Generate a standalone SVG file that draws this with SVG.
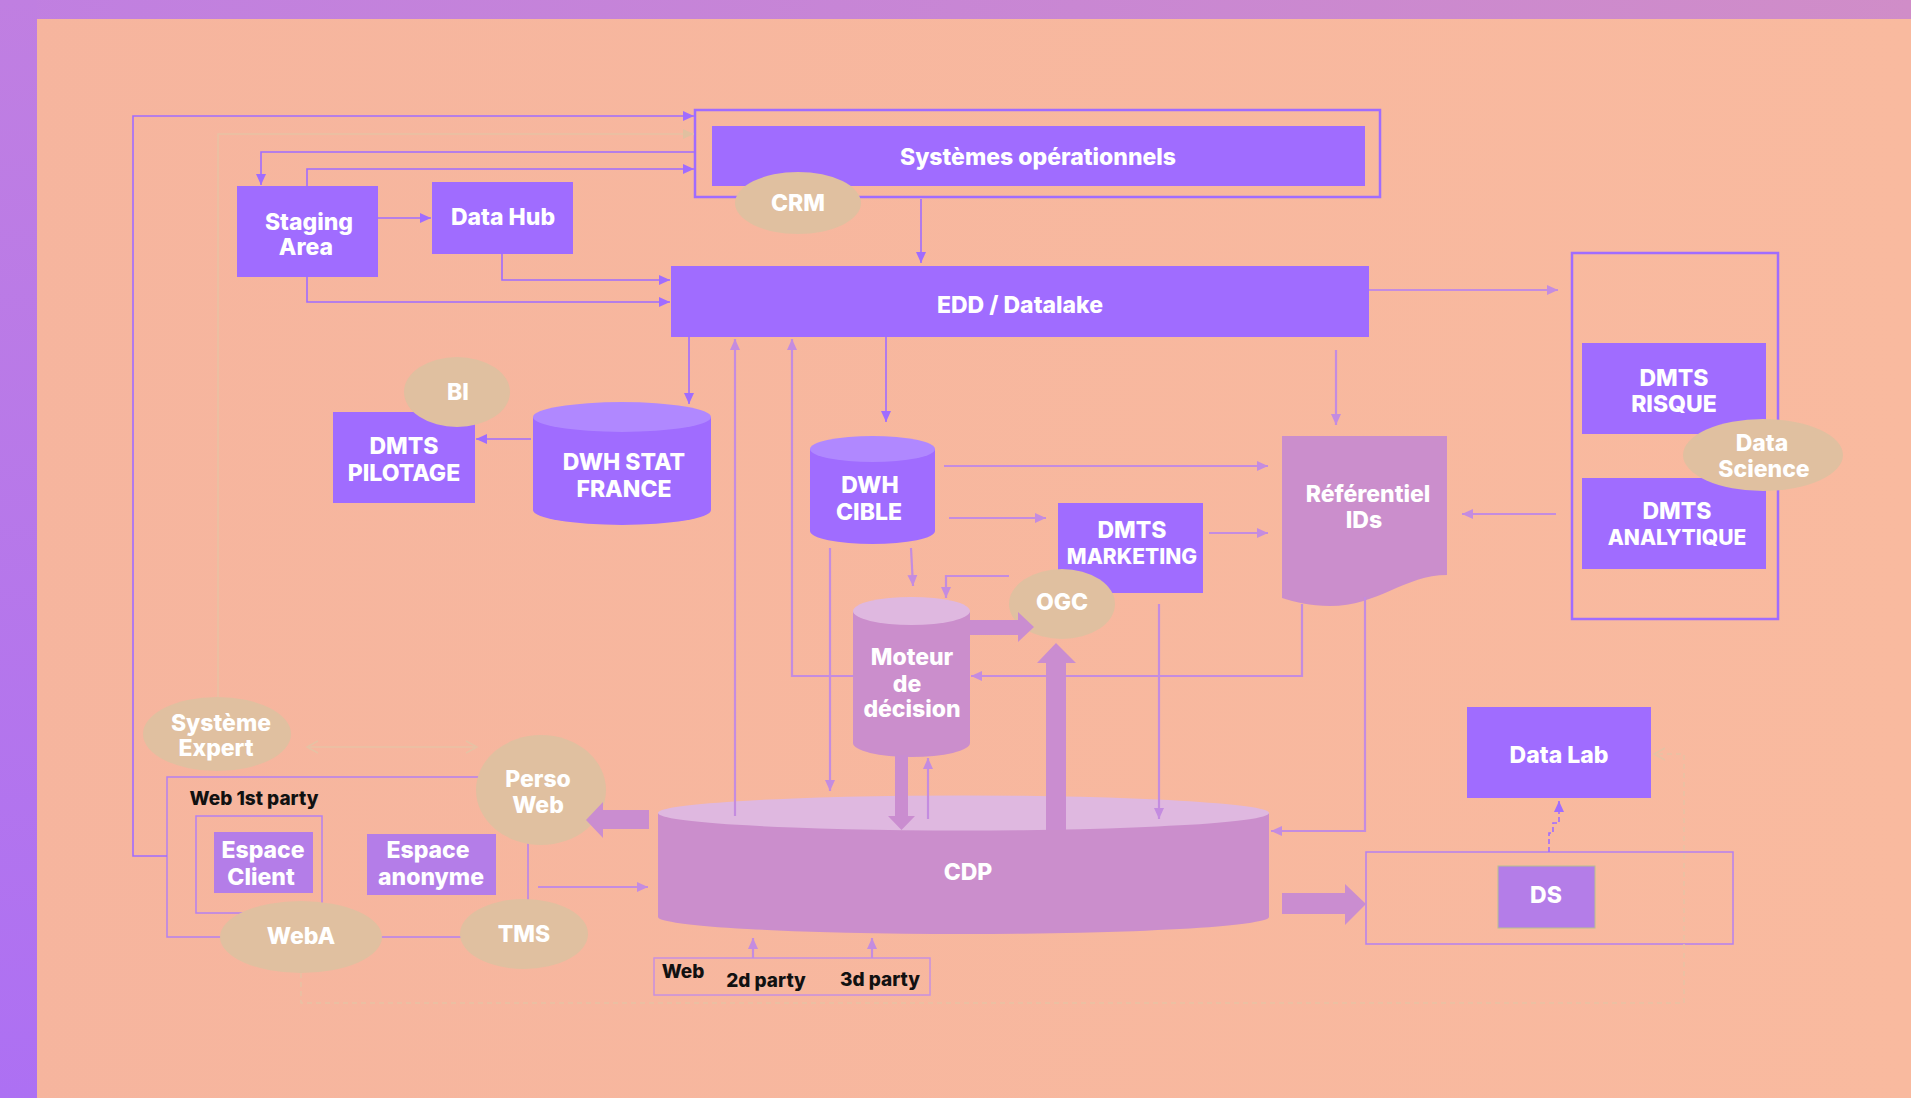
<svg xmlns="http://www.w3.org/2000/svg" width="1911" height="1098" viewBox="0 0 1911 1098">
<defs>
<linearGradient id="bg" x1="0" y1="0" x2="1" y2="0"><stop offset="0" stop-color="#F6B59E"/><stop offset="1" stop-color="#F9BA9F"/></linearGradient>
<linearGradient id="topband" x1="0" y1="0" x2="1" y2="0"><stop offset="0" stop-color="#C07FE1"/><stop offset="1" stop-color="#D08DC8"/></linearGradient>
<linearGradient id="leftband" x1="0" y1="0" x2="0" y2="1"><stop offset="0" stop-color="#C07FE1"/><stop offset="1" stop-color="#AD70F3"/></linearGradient>
<marker id="ap" markerUnits="userSpaceOnUse" markerWidth="12" markerHeight="12" viewBox="0 0 12 12" refX="11" refY="6" orient="auto"><path d="M0,1 L11,6 L0,11 Z" fill="#A06CFF"/></marker>
<marker id="al" markerUnits="userSpaceOnUse" markerWidth="12" markerHeight="12" viewBox="0 0 12 12" refX="11" refY="6" orient="auto"><path d="M0,1 L11,6 L0,11 Z" fill="#C48CE0"/></marker>
<marker id="at" markerUnits="userSpaceOnUse" markerWidth="12" markerHeight="12" viewBox="0 0 12 12" refX="11" refY="6" orient="auto"><path d="M0,1 L11,6 L0,11 Z" fill="#E0C0A0"/></marker>
<marker id="ao" markerUnits="userSpaceOnUse" markerWidth="14" markerHeight="14" viewBox="0 0 14 14" refX="12" refY="7" orient="auto-start-reverse"><path d="M1,1 L12,7 L1,13" fill="none" stroke="#E6C2A4" stroke-width="1.5"/></marker>
<style>
.box{fill:#A06CFF}
.boxl{fill:#B47DE8}
.pink{fill:#CB8ECC}
.pinktop{fill:#DFB8E0}
.vtop{fill:#B088FF}
.tan{fill:#E0C0A0}
.frame{fill:none;stroke:#A06CFF;stroke-width:2.5}
.framel{fill:none;stroke:#B580F0;stroke-width:1.5}
.t{font-family:Inter,'Noto Sans',sans-serif;font-weight:800;fill:#FFFFFF;text-anchor:middle;dominant-baseline:central;font-size:23px}
.s{font-size:21px}
.k{font-family:Inter,'Noto Sans',sans-serif;font-weight:800;fill:#111111;text-anchor:middle;dominant-baseline:central;font-size:19px}
.cp{fill:none;stroke:#A06CFF;stroke-width:1.6}
.cl{fill:none;stroke:#C48CE0;stroke-width:2.2}
.ct{fill:none;stroke:#E8C2A4;stroke-width:1.5}
.thick{fill:#CA8DD0}
</style>
</defs>

<rect x="0" y="0" width="1911" height="1098" fill="url(#bg)"/>
<rect x="0" y="0" width="1911" height="19" fill="url(#topband)"/>
<rect x="0" y="0" width="37" height="1098" fill="url(#leftband)"/>

<g id="node-sysops">
<rect x="695" y="110" width="685" height="87" class="frame"/>
<rect x="712" y="126" width="653" height="60" class="box"/>
<text x="1038" y="157" class="t">Systèmes opérationnels</text>
</g>
<g id="node-crm">
<ellipse cx="798" cy="203" rx="63" ry="31" class="tan"/>
<text x="798" y="203" class="t">CRM</text>
</g>
<g id="node-edd">
<rect x="671" y="266" width="698" height="71" class="box"/>
<text x="1020" y="305" class="t">EDD / Datalake</text>
</g>
<g id="node-staging">
<rect x="237" y="186" width="141" height="91" class="box"/>
<text x="309" y="222" class="t">Staging</text>
<text x="306" y="247" class="t">Area</text>
</g>
<g id="node-datahub">
<rect x="432" y="182" width="141" height="72" class="box"/>
<text x="503" y="217" class="t">Data Hub</text>
</g>
<g id="node-dmts-container">
<rect x="1572" y="253" width="206" height="366" class="frame"/>
</g>
<g id="node-risque">
<rect x="1582" y="343" width="184" height="91" class="box"/>
<text x="1674" y="378" class="t">DMTS</text>
<text x="1674" y="404" class="t">RISQUE</text>
</g>
<g id="node-analytique">
<rect x="1582" y="478" width="184" height="91" class="box"/>
<text x="1677" y="511" class="t">DMTS</text>
<text x="1677" y="537" class="t s">ANALYTIQUE</text>
</g>
<g id="node-datascience">
<ellipse cx="1763" cy="455" rx="80" ry="36" class="tan"/>
<text x="1762" y="443" class="t">Data</text>
<text x="1764" y="469" class="t">Science</text>
</g>
<g id="node-referentiel">
<path d="M1282,436 H1447 V575 C1405,575 1378,606 1330,606 C1310,606 1295,602 1282,598 Z" class="pink"/>
<text x="1368" y="494" class="t">Référentiel</text>
<text x="1364" y="520" class="t">IDs</text>
</g>
<g id="node-dwhstat">
<path d="M533,417 V510 A89,15 0 0 0 711,510 V417 Z" class="box"/>
<ellipse cx="622" cy="417" rx="89" ry="15" class="vtop"/>
<text x="624" y="462" class="t">DWH STAT</text>
<text x="624" y="489" class="t">FRANCE</text>
</g>
<g id="node-pilotage">
<rect x="333" y="412" width="142" height="91" class="box"/>
<text x="404" y="446" class="t">DMTS</text>
<text x="404" y="473" class="t">PILOTAGE</text>
</g>
<g id="node-bi">
<ellipse cx="457" cy="392" rx="53" ry="35" class="tan"/>
<text x="458" y="392" class="t">BI</text>
</g>
<g id="node-dwhcible">
<path d="M810,449 V531 A62.5,13 0 0 0 935,531 V449 Z" class="box"/>
<ellipse cx="872.5" cy="449" rx="62.5" ry="13" class="vtop"/>
<text x="870" y="485" class="t">DWH</text>
<text x="869" y="512" class="t">CIBLE</text>
</g>
<g id="node-marketing">
<rect x="1058" y="503" width="145" height="90" class="box"/>
<text x="1132" y="530" class="t">DMTS</text>
<text x="1132" y="556" class="t s">MARKETING</text>
</g>
<g id="node-ogc">
<ellipse cx="1062" cy="604" rx="53" ry="35" class="tan"/>
<text x="1062" y="602" class="t">OGC</text>
</g>
<g id="node-moteur">
<path d="M853,611 V743 A58.5,14 0 0 0 970,743 V611 Z" class="pink"/>
<ellipse cx="911.5" cy="611" rx="58.5" ry="14" class="pinktop"/>
<text x="912" y="657" class="t">Moteur</text>
<text x="907" y="684" class="t">de</text>
<text x="912" y="709" class="t">décision</text>
</g>
<g id="node-cdp">
<path d="M658,813 V917 A305.5,17 0 0 0 1269,917 V813 Z" class="pink"/>
<ellipse cx="963.5" cy="813" rx="305.5" ry="17.5" class="pinktop"/>
<text x="968" y="872" class="t">CDP</text>
</g>
<g id="node-web-sources">
<rect x="654" y="958" width="276" height="37" fill="none" stroke="#C890E0" stroke-width="1.5"/>
<text x="683" y="971" class="k">Web</text>
<text x="766" y="980" class="k">2d party</text>
<text x="880" y="979" class="k">3d party</text>
</g>
<g id="node-datalab">
<rect x="1467" y="707" width="184" height="91" class="box"/>
<text x="1559" y="755" class="t">Data Lab</text>
</g>
<g id="node-ds">
<rect x="1366" y="852" width="367" height="92" class="framel"/>
<rect x="1498" y="866" width="97" height="62" class="boxl" stroke="#B8C090" stroke-width="1"/>
<text x="1546" y="895" class="t">DS</text>
</g>
<g id="node-systeme-expert">
<ellipse cx="217" cy="734" rx="74" ry="37" class="tan"/>
<text x="221" y="723" class="t">Système</text>
<text x="216" y="748" class="t">Expert</text>
</g>
<g id="node-web1st">
<rect x="167" y="777" width="361" height="160" class="framel"/>
<text x="254" y="798" class="k">Web 1st party</text>
<rect x="196" y="816" width="126" height="97" class="framel"/>
</g>
<g id="node-espace-client">
<rect x="214" y="832" width="99" height="61" class="boxl"/>
<text x="263" y="850" class="t">Espace</text>
<text x="261" y="877" class="t">Client</text>
</g>
<g id="node-espace-anonyme">
<rect x="367" y="834" width="129" height="61" class="boxl"/>
<text x="428" y="850" class="t">Espace</text>
<text x="431" y="877" class="t">anonyme</text>
</g>
<g id="node-persoweb">
<ellipse cx="541" cy="790" rx="65" ry="55" class="tan"/>
<text x="538" y="779" class="t">Perso</text>
<text x="538" y="805" class="t">Web</text>
</g>
<g id="node-weba">
<ellipse cx="301" cy="937" rx="81" ry="36" class="tan"/>
<text x="301" y="936" class="t">WebA</text>
</g>
<g id="node-tms">
<ellipse cx="524" cy="934" rx="64" ry="35" class="tan"/>
<text x="524" y="934" class="t">TMS</text>
</g>

<g id="connectors">
<path d="M167,856 H133 V116 H694" class="cp" marker-end="url(#ap)"/>
<path d="M218,697 V134 H694" class="ct" marker-end="url(#at)"/>
<path d="M695,152 H261 V185" class="cp" marker-end="url(#ap)"/>
<path d="M307,186 V169 H694" class="cp" marker-end="url(#ap)"/>
<path d="M378,218 H431" class="cp" marker-end="url(#ap)"/>
<path d="M502,254 V280 H670" class="cp" marker-end="url(#ap)"/>
<path d="M307,277 V302 H670" class="cp" marker-end="url(#ap)"/>
<path d="M921,199 V263" class="cp" marker-end="url(#ap)"/>
<path d="M689,337 V404" class="cp" marker-end="url(#ap)"/>
<path d="M531,439 H476" class="cp" marker-end="url(#ap)"/>
<path d="M886,337 V422" class="cp" marker-end="url(#ap)"/>
<path d="M1369,290 H1558" class="cl" marker-end="url(#al)"/>
<path d="M1556,514 H1462" class="cl" marker-end="url(#al)"/>
<path d="M1336,350 V425" class="cl" marker-end="url(#al)"/>
<path d="M944,466 H1268" class="cl" marker-end="url(#al)"/>
<path d="M949,518 H1046" class="cl" marker-end="url(#al)"/>
<path d="M1209,533 H1268" class="cl" marker-end="url(#al)"/>
<path d="M911,548 L913,586" class="cl" marker-end="url(#al)"/>
<path d="M1009,576 H946 V598" class="cl" stroke-width="1.6" marker-end="url(#al)"/>
<path d="M830,548 V791" class="cl" marker-end="url(#al)"/>
<path d="M1159,604 V819" class="cl" marker-end="url(#al)"/>
<path d="M1302,604 V676 H971" class="cl" stroke-width="1.6" marker-end="url(#al)"/>
<path d="M853,676 H792 V339" class="cl" stroke-width="1.6" marker-end="url(#al)"/>
<path d="M735,816 V339" class="cl" marker-end="url(#al)"/>
<path d="M1365,597 V831 H1271" class="cl" stroke-width="1.6" marker-end="url(#al)"/>
<path d="M928,819 V758" class="cl" marker-end="url(#al)"/>
<path d="M538,887 H648" class="cl" marker-end="url(#al)"/>
<path d="M753,958 V938" class="cl" marker-end="url(#al)"/>
<path d="M872,958 V938" class="cl" marker-end="url(#al)"/>
<path d="M307,747 H477" class="ct" marker-start="url(#ao)" marker-end="url(#ao)"/>
<path d="M301,973 V1003 H1684 V754 H1654" class="ct" stroke-dasharray="5,4" marker-end="url(#ao)"/>
<path d="M1549,852 V833 H1553 V823 H1559 V801" class="cp" stroke-dasharray="5,3" marker-end="url(#ap)"/>
<path d="M970,620 H1018 V612 L1034,627 L1018,642 V635 H970 Z" class="thick"/>
<path d="M895,755 V816 H888 L901.5,830 L915,816 H908 V755 Z" class="thick"/>
<path d="M1046,830 V663 H1037 L1056,643 L1076,663 H1066 V830 Z" class="thick"/>
<path d="M649,810 H603 V802 L586,820 L603,838 V829 H649 Z" class="thick"/>
<path d="M1282,893 H1345 V884 L1366,904 L1345,925 V914 H1282 Z" class="thick"/>
</g>
</svg>
